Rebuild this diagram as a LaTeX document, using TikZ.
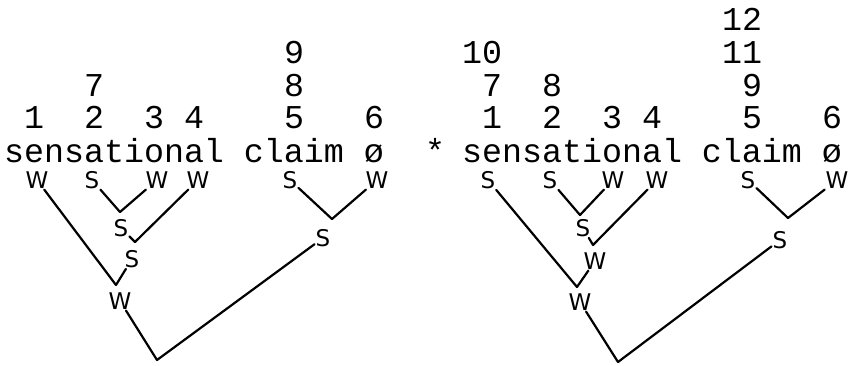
\documentclass[tikz,border=0pt]{standalone}
\usepackage{fontspec}
\setmonofont{Liberation Mono}
\newfontfamily\labfont{DejaVu Sans}
\begin{document}
\begin{tikzpicture}[x=1pt,y=-1pt,
  txt/.style={font=\ttfamily\fontsize{33.3}{40}\selectfont, inner sep=0pt, anchor=base},
  word/.style={txt, anchor=base west},
  lab/.style={font={\labfont\fontsize{23}{28}\selectfont}, inner sep=1pt},
  br/.style={line width=2.2pt, line cap=round, line join=round}]
\useasboundingbox (0,0) rectangle (852,365);
% ---------------- left ----------------
\node[word] (lw) at (4,162) {sensational claim ø};
\node[txt] (l1) at (34,128) {1};
\node[txt] (l2) at (94,128) {2};
\node[txt] (l3) at (154,128) {3};
\node[txt] (l4) at (194,128) {4};
\node[txt] (l5) at (294,128) {5};
\node[txt] (l6) at (374,128) {6};
\node[txt] (l7) at (94,96) {7};
\node[txt] (l8) at (294,96) {8};
\node[txt] (l9) at (294,63) {9};
\node[lab] (a1) at (37,180) {W};
\node[lab] (a2) at (92,180) {S};
\node[lab] (a3) at (157,180) {W};
\node[lab] (a4) at (198,180) {W};
\node[lab] (a5) at (290,180) {S};
\node[lab] (a6) at (377,180) {W};
\node[lab] (b1) at (121,228) {S};
\node[lab] (b2) at (132,259) {S};
\node[lab] (b3) at (120,301) {W};
\node[lab] (b4) at (323,238) {S};
\coordinate (j1) at (120,212);
\coordinate (j2) at (135,242);
\coordinate (j3) at (116,285);
\coordinate (j4) at (332,219);
\coordinate (j5) at (157,360);
\draw[br] (a2) -- (j1) -- (a3);
\draw[br] (b1) -- (j2) -- (a4);
\draw[br] (a1) -- (j3) -- (b2);
\draw[br] (a5) -- (j4) -- (a6);
\draw[br] (b3) -- (j5) -- (b4);
% ---------------- right ----------------
\node[txt, anchor=center] (star) at (435,150) {*};
\node[word] (rw) at (462,162) {sensational claim ø};
\node[txt] (r1) at (492,128) {1};
\node[txt] (r2) at (552,128) {2};
\node[txt] (r3) at (612,128) {3};
\node[txt] (r4) at (652,128) {4};
\node[txt] (r5) at (752,128) {5};
\node[txt] (r6) at (832,128) {6};
\node[txt] (r7) at (492,96) {7};
\node[txt] (r8) at (552,96) {8};
\node[txt] (r9) at (752,96) {9};
\node[txt] (r10) at (482,63) {10};
\node[txt] (r11) at (742,63) {11};
\node[txt] (r12) at (742,30) {12};
\node[lab] (c1) at (488,180) {S};
\node[lab] (c2) at (550,180) {S};
\node[lab] (c3) at (613,180) {W};
\node[lab] (c4) at (657,180) {W};
\node[lab] (c5) at (748,180) {S};
\node[lab] (c6) at (837,180) {W};
\node[lab] (d1) at (583,228) {S};
\node[lab] (d2) at (595,261) {W};
\node[lab] (d3) at (580,302) {W};
\node[lab] (d4) at (780,240) {S};
\coordinate (k1) at (580,215);
\coordinate (k2) at (593,245);
\coordinate (k3) at (577,287);
\coordinate (k4) at (788,218);
\coordinate (k5) at (618,362);
\draw[br] (c2) -- (k1) -- (c3);
\draw[br] (d1) -- (k2) -- (c4);
\draw[br] (c1) -- (k3) -- (d2);
\draw[br] (c5) -- (k4) -- (c6);
\draw[br] (d3) -- (k5) -- (d4);
\end{tikzpicture}
\end{document}
